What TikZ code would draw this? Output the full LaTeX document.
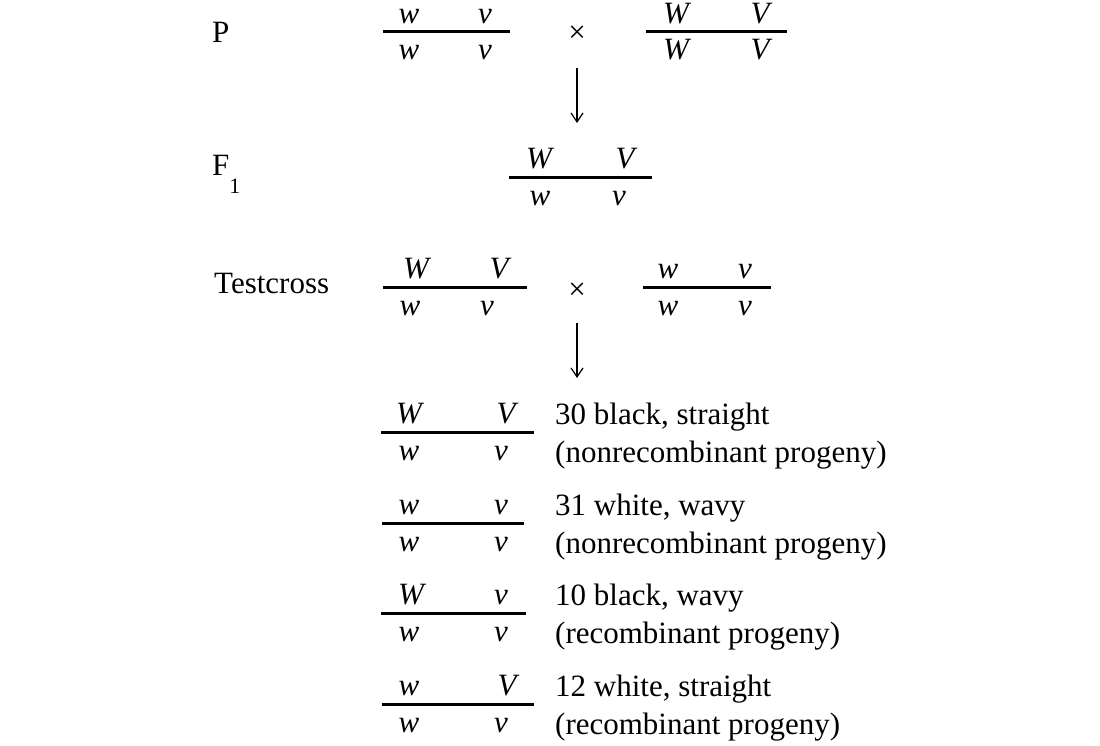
\documentclass[tikz,border=0pt]{standalone}
\usepackage{fontspec}
\setmainfont{Liberation Serif}
\usetikzlibrary{arrows.meta}
\begin{document}
\begin{tikzpicture}[x=1pt,y=-1pt,
  txt/.style={font=\fontsize{31}{37}\selectfont, inner sep=0pt, anchor=base west},
  gene/.style={font=\fontsize{31}{37}\selectfont\itshape, inner sep=0pt, anchor=base, text height=21pt, text depth=0pt},
  crossmark/.style={font=\fontsize{31}{37}\selectfont, inner sep=0pt, anchor=center},
  chromline/.style={line width=3pt},
  arr/.style={line width=1.2pt, -{Straight Barb[length=9pt,width=12pt,line width=1.2pt]}}]
\useasboundingbox (0,0) rectangle (1100,745);

% ---------- row labels
\node[txt] (lP) at (212,42) {P};
\node[txt] (lF) at (212,175) {F\raisebox{-18pt}{\fontsize{22}{22}\selectfont 1}};
\node[txt] (lT) at (214,293) {Testcross};

% ---------- P generation
\draw[chromline] (383,31) coordinate (p1a) -- (510,31) coordinate (p1b);
\node[gene] (p1tl) at (409,23) {w};
\node[gene] (p1tr) at (485,23) {v};
\node[gene] (p1bl) at (409,59) {w};
\node[gene] (p1br) at (485,59) {v};

\node[crossmark] (x1) at (577,34) {×};

\draw[chromline] (646,31) coordinate (p2a) -- (787,31) coordinate (p2b);
\node[gene] (p2tl) at (676,23) {W};
\node[gene] (p2tr) at (760,23) {V};
\node[gene] (p2bl) at (676,59) {W};
\node[gene] (p2br) at (760,59) {V};

\coordinate (a1s) at (577,68);
\coordinate (a1e) at (577,123);
\draw[arr] (a1s) -- (a1e);

% ---------- F1
\draw[chromline] (509,177) coordinate (f1a) -- (652,177) coordinate (f1b);
\node[gene] (f1tl) at (539,168) {W};
\node[gene] (f1tr) at (625,168) {V};
\node[gene] (f1bl) at (540,205) {w};
\node[gene] (f1br) at (619,205) {v};

% ---------- Testcross
\draw[chromline] (383,287) coordinate (t1a) -- (527,287) coordinate (t1b);
\node[gene] (t1tl) at (416,278) {W};
\node[gene] (t1tr) at (499,278) {V};
\node[gene] (t1bl) at (410,315) {w};
\node[gene] (t1br) at (487,315) {v};

\node[crossmark] (x2) at (577,291) {×};

\draw[chromline] (643,287) coordinate (t2a) -- (771,287) coordinate (t2b);
\node[gene] (t2tl) at (668,278) {w};
\node[gene] (t2tr) at (745,278) {v};
\node[gene] (t2bl) at (668,315) {w};
\node[gene] (t2br) at (745,315) {v};

\coordinate (a2s) at (577,323);
\coordinate (a2e) at (577,378);
\draw[arr] (a2s) -- (a2e);

% ---------- Progeny
% row 1
\draw[chromline] (381,432) coordinate (r1a) -- (534,432) coordinate (r1b);
\node[gene] (r1tl) at (409,423) {W};
\node[gene] (r1tr) at (506,423) {V};
\node[gene] (r1bl) at (409,460) {w};
\node[gene] (r1br) at (501,460) {v};
\node[txt] (r1t1) at (555,424) {30 black, straight};
\node[txt] (r1t2) at (555,462) {(nonrecombinant progeny)};

% row 2
\draw[chromline] (382,523) coordinate (r2a) -- (524,523) coordinate (r2b);
\node[gene] (r2tl) at (409,514) {w};
\node[gene] (r2tr) at (501,514) {v};
\node[gene] (r2bl) at (409,551) {w};
\node[gene] (r2br) at (501,551) {v};
\node[txt] (r2t1) at (555,515) {31 white, wavy};
\node[txt] (r2t2) at (555,553) {(nonrecombinant progeny)};

% row 3
\draw[chromline] (381,613) coordinate (r3a) -- (526,613) coordinate (r3b);
\node[gene] (r3tl) at (411,604) {W};
\node[gene] (r3tr) at (501,604) {v};
\node[gene] (r3bl) at (409,641) {w};
\node[gene] (r3br) at (501,641) {v};
\node[txt] (r3t1) at (555,605) {10 black, wavy};
\node[txt] (r3t2) at (555,643) {(recombinant progeny)};

% row 4
\draw[chromline] (382,704) coordinate (r4a) -- (534,704) coordinate (r4b);
\node[gene] (r4tl) at (409,695) {w};
\node[gene] (r4tr) at (507,695) {V};
\node[gene] (r4bl) at (409,732) {w};
\node[gene] (r4br) at (501,732) {v};
\node[txt] (r4t1) at (555,696) {12 white, straight};
\node[txt] (r4t2) at (555,734) {(recombinant progeny)};
\end{tikzpicture}
\end{document}
